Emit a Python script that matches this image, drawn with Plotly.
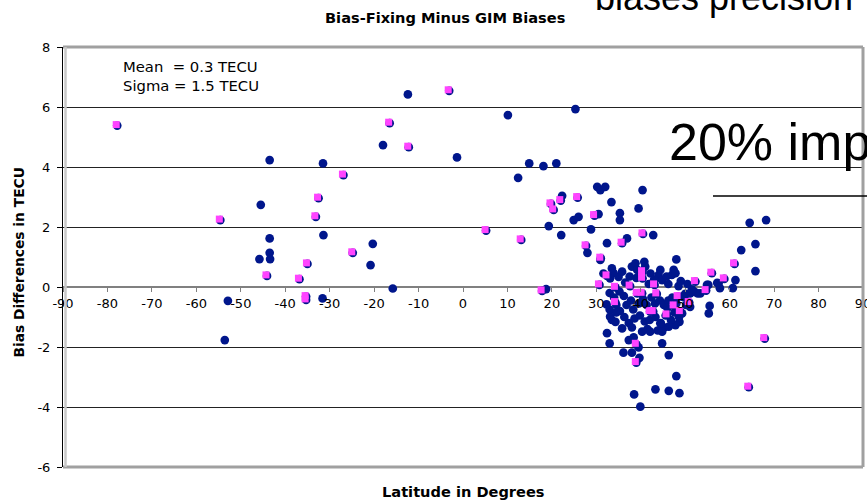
import plotly.graph_objects as go

# Stations drawn only as navy circles: latitude (deg) and bias difference (TECU)
lat_navy = [
    -43.5, -31.5, -45.5, -43.5, -31.4, -43.5, -45.8, -43.4, -52.9, -53.6,
    -31.6, -20.8, -15.8, -20.3, -12.4, -18.0, -1.35, 10.1, 25.3, 14.9,
    18.1, 21.0, 12.4, 30.2, 30.9, 32.0, 40.4, 22.3, 33.4, 30.5,
    35.3, 35.3, 39.5, 24.9, 26.0, 19.3, 28.8, 22.1, 18.7, 32.4,
    36.9, 42.8, 28.0, 48.0, 62.6, 65.8, 65.8, 64.5, 68.2, 61.3,
    60.7, 57.5, 57.8, 55.2, 52.1, 52.8, 55.5, 55.3, 57.2, 51.1,
    49.3, 51.1, 49.3, 48.7, 47.8, 46.3, 48.0, 48.7, 46.3, 43.3,
    39.9, 38.5, 44.8, 39.7, 39.5, 36.1, 38.0, 37.3, 38.4, 35.8,
    32.4, 33.0, 33.5, 33.1, 34.3, 32.3, 30.9, 48.5, 50.0, 51.5,
    53.4, 54.9,
    33.5, 33.9, 33.1, 35.0, 35.8, 38.0, 38.8, 40.8, 41.0, 39.2,
    44.4, 44.0, 44.8, 47.4, 47.0, 47.8, 36.5, 37.5, 42.2, 43.0,
    45.8, 46.2, 49.0, 50.5, 41.8, 39.0, 31.6,
    33.0, 34.0, 35.2, 36.2, 36.8, 37.8, 38.3, 39.6, 40.5, 41.3,
    42.4, 43.2, 44.3, 45.2, 46.2, 47.1, 35.3, 36.3, 37.3, 38.6,
    39.8, 40.9, 42.0, 43.3, 44.5, 45.6, 46.8, 38.0, 41.5, 43.8,
    45.3, 34.5, 48.0, 49.8, 40.3, 42.1, 44.8, 46.3, 44.4, 33.0,
    34.5, 47.6, 48.6, 46.0, 50.2,
]
bias_navy = [
    4.23, 4.12, 2.74, 1.62, 1.73, 1.14, 0.93, 0.93, -0.46, -1.77,
    -0.38, 0.73, -0.05, 1.44, 6.42, 4.73, 4.32, 5.73, 5.93, 4.12,
    4.03, 4.12, 3.64, 3.34, 3.23, 3.34, 3.23, 3.04, 2.83, 2.43,
    2.46, 2.23, 2.62, 2.23, 2.34, 2.03, 1.92, 1.73, -0.07, 1.46,
    1.62, 1.73, 1.14, 0.92, 1.23, 1.43, 0.53, 2.14, 2.23, 0.23,
    -0.04, 0.12, -0.04, 0.07, -0.16, -0.21, -0.63, -0.88, 0.14, -0.21,
    -0.32, -0.66, -0.88, -1.16, -1.27, -2.27, -2.97, -3.54, -3.46, -3.41,
    -3.99, -3.58, -1.88, -2.36, -2.01, -2.19, -2.19, -1.77, -1.68, -1.38,
    -1.54, -1.88, -1.10, -0.99, -1.16, -0.58, 0.90, 0.03, -0.23, -0.08,
    -0.21, 0.07,
    0.62, 0.46, 0.29, 0.34, 0.51, 0.68, 0.79, 0.84, 0.68, 0.57,
    0.57, 0.40, 0.23, 0.57, 0.40, 0.46, 0.15, 0.35, 0.45, 0.25,
    0.35, 0.10, 0.20, 0.10, 0.10, 0.30, 0.45,
    -0.20, -0.35, -0.15, -0.30, -0.60, -0.45, -0.75, -0.55, -0.40, -0.60,
    -0.35, -0.55, -0.45, -0.60, -0.45, -0.35, -0.80, -1.00, -1.20, -1.05,
    -0.95, -1.15, -1.10, -1.00, -1.20, -0.95, -1.10, -1.35, -1.40, -1.45,
    -1.35, -0.60, -0.55, -0.35, -1.49, -1.49, -1.49, -1.32, -1.21, -0.75,
    -0.85, -0.85, -1.00, -0.70, -0.60,
]

# Stations highlighted with magenta squares (also part of the navy series)
lat_pink = [
    -77.8, -54.6, -32.5, -33.1, -26.9, -24.8, -35.0, -44.1, -36.8, -35.3,
    -35.3, -16.5, -12.2, -3.1, 5.2, 13.1, 17.8, 22.0, 25.8, 19.8,
    20.4, 29.6, 35.8, 40.5, 27.7, 31.0, 32.4, 40.4, 40.4, 56.0,
    52.3, 54.7, 30.7, 34.3, 37.6, 39.2, 40.3, 43.1, 43.6, 48.4,
    61.1, 58.8, 50.9, 48.9, 47.5, 45.9, 39.0, 39.0, 34.3, 42.1,
    42.8, 64.3, 67.9,
]
bias_pink = [
    5.38, 2.23, 2.96, 2.34, 3.73, 1.14, 0.77, 0.37, 0.26, -0.32,
    -0.43, 5.46, 4.66, 6.54, 1.88, 1.57, -0.13, 2.88, 2.98, 2.77,
    2.57, 2.38, 1.46, 1.77, 1.37, 0.96, 0.37, 0.51, 0.29, 0.46,
    0.18, -0.12, 0.07, -0.01, 0.03, -0.21, -0.21, 0.07, -0.23, -0.32,
    0.77, 0.27, -0.52, -0.82, -0.63, -0.93, -2.52, -1.91, -0.52, -0.82,
    -0.82, -3.34, -1.72,
]

x_ticks = list(range(-90, 91, 10))
y_ticks = list(range(-6, 9, 2))
X_RANGE = [-90, 90]
Y_RANGE = [-6, 8]

NAVY = "#00168c"
PINK = "#ff44ff"
FONT = "DejaVu Sans"

# The square markers sit one pixel up and to the left of their circles,
# so they are drawn on an overlaid axis pair whose range is nudged by 1 px.
px_x = (X_RANGE[1] - X_RANGE[0]) / 800
px_y = (Y_RANGE[1] - Y_RANGE[0]) / 420

fig = go.Figure()
fig.add_trace(go.Scatter(
    x=lat_navy + lat_pink, y=bias_navy + bias_pink, mode="markers",
    marker=dict(symbol="circle", size=8.7, color=NAVY, line=dict(width=0)),
    hoverinfo="skip", showlegend=False,
))
fig.add_trace(go.Scatter(
    x=lat_pink, y=bias_pink, mode="markers", xaxis="x2", yaxis="y2",
    marker=dict(symbol="square", size=7, color=PINK, line=dict(width=0)),
    hoverinfo="skip", showlegend=False,
))

fig.update_layout(
    width=867, height=502,
    margin=dict(l=63, r=4, t=47, b=35, autoexpand=False),
    paper_bgcolor="white", plot_bgcolor="white",
    font=dict(family=FONT, size=13, color="black"),
    xaxis=dict(
        range=X_RANGE, tickvals=x_ticks, ticktext=[str(v) for v in x_ticks],
        anchor="free", position=6 / 14, side="bottom", automargin=False,
        showline=False, showgrid=False, zeroline=False,
        ticks="outside", ticklen=4, tickcolor="#808080", tickwidth=1,
        ticklabeloverflow="allow",
        tickfont=dict(family=FONT, size=13), fixedrange=True,
    ),
    yaxis=dict(
        range=Y_RANGE, tickvals=y_ticks, ticktext=[str(v) for v in y_ticks],
        automargin=False,
        showline=True, linecolor="black", linewidth=1,
        showgrid=True, gridcolor="#222222", gridwidth=1,
        zeroline=True, zerolinecolor="#808080", zerolinewidth=2,
        ticks="outside", ticklen=5, tickcolor="black", ticklabelstandoff=4,
        tickfont=dict(family=FONT, size=13), fixedrange=True,
    ),
    xaxis2=dict(range=[X_RANGE[0] + px_x, X_RANGE[1] + px_x], overlaying="x",
                visible=False, fixedrange=True, automargin=False),
    yaxis2=dict(range=[Y_RANGE[0] - px_y, Y_RANGE[1] - px_y], overlaying="y",
                visible=False, fixedrange=True, automargin=False),
)

# Plot-area frame (top, right, bottom) in grey, with a soft shadow on the left edge
frame = dict(type="line", xref="paper", yref="paper", layer="above",
             line=dict(color="#a0a0a0", width=3))
fig.add_shape(**frame, x0=0, x1=1, y0=1, y1=1)
fig.add_shape(**frame, x0=1, x1=1, y0=0, y1=1)
fig.add_shape(**frame, x0=0, x1=1, y0=0, y1=0)
fig.add_shape(type="line", xref="paper", yref="paper", layer="above",
              x0=2.5 / 800, x1=2.5 / 800, y0=0, y1=1,
              line=dict(color="#c8c8c8", width=2.5))

# Titles
fig.add_annotation(text="<b>Bias-Fixing Minus GIM Biases</b>", xref="paper", yref="paper",
                   x=0.4769, y=1.0714, showarrow=False, xanchor="center", yanchor="middle",
                   font=dict(family=FONT, size=14.6))
fig.add_annotation(text="<b>Latitude in Degrees</b>", xref="paper", yref="paper",
                   x=0.5, y=-0.0595, showarrow=False, xanchor="center", yanchor="middle",
                   font=dict(family=FONT, size=14.6))
fig.add_annotation(text="<b>Bias Differences in TECU</b>", xref="paper", yref="paper",
                   x=-0.055, y=0.487, showarrow=False, xanchor="center", yanchor="middle",
                   textangle=-90, font=dict(family=FONT, size=13.8))

# Statistics box
fig.add_annotation(text="Mean  = 0.3 TECU<br>Sigma = 1.5 TECU", xref="paper", yref="paper",
                   x=0.0725, y=0.932, showarrow=False, xanchor="left", yanchor="middle",
                   align="left", font=dict(family=FONT, size=14.8))

# Slide text overlaid on the chart
fig.add_annotation(text="biases precision", xref="paper", yref="paper",
                   x=0.6625, y=1.117, showarrow=False, xanchor="left", yanchor="middle",
                   font=dict(family="Liberation Sans", size=36))
fig.add_annotation(text="20% imp", xref="paper", yref="paper",
                   x=(667 - 63) / 800, y=0.774, showarrow=False, xanchor="left", yanchor="middle",
                   font=dict(family="Liberation Sans", size=52))
fig.add_shape(type="line", xref="paper", yref="paper", layer="above",
              x0=(713 - 63) / 800, x1=(870 - 63) / 800,
              y0=1 - (196 - 47) / 420, y1=1 - (196 - 47) / 420,
              line=dict(color="black", width=1.5))

fig.write_html("out.html")
